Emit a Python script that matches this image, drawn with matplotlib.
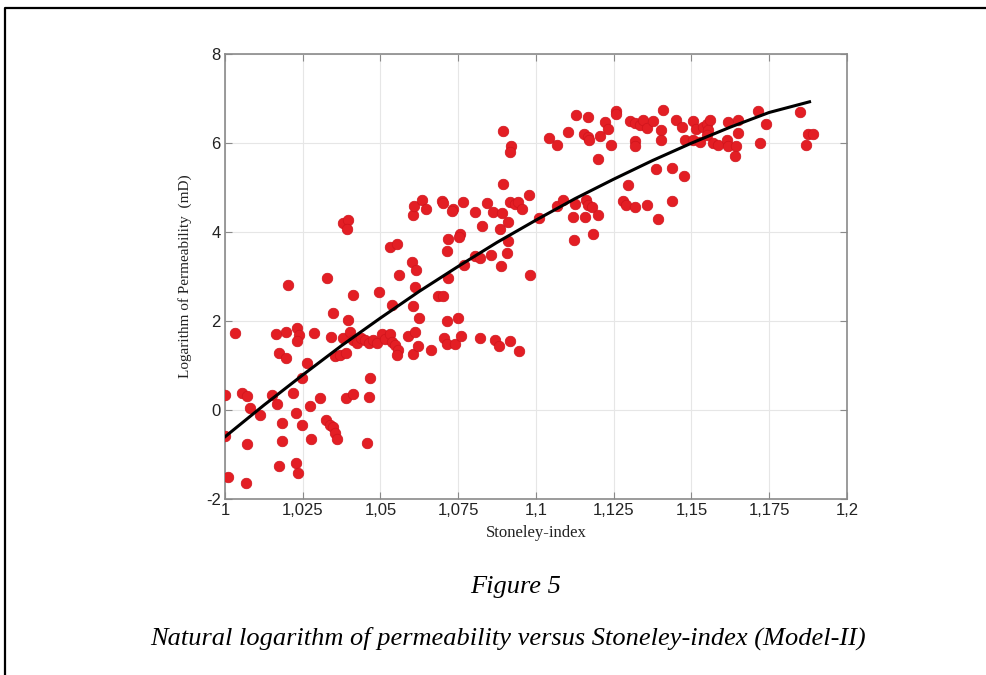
import numpy as np
import matplotlib
matplotlib.use("Agg")
import matplotlib.pyplot as plt
from matplotlib.lines import Line2D

plt.rcParams["axes.unicode_minus"] = False

# Stoneley-index and ln(permeability) of the core samples
st_index = [
    1.0893, 1.0919, 1.0918, 1.0893, 1.0916, 1.0932, 1.0606, 1.0609, 1.0635, 1.0646,
    1.0697, 1.0702, 1.0732, 1.0729, 1.0764, 1.0804, 1.0843, 1.0863, 1.0890, 1.0825,
    1.0886, 1.0911, 1.0718, 1.0756, 1.0754, 1.0715, 1.0909, 1.0906, 1.0857, 1.0804,
    1.0820, 1.0887, 1.0770, 1.0602, 1.0614, 1.0531, 1.0552, 1.0559, 1.0718, 1.0378,
    1.0397, 1.0393, 1.0327,
    1.0943, 1.0954, 1.0977, 1.0981, 1.1010, 1.1069, 1.1088, 1.1125, 1.1120, 1.1122,
    1.1161, 1.1168, 1.1179, 1.1158, 1.1200, 1.1184, 1.1042, 1.1069, 1.1102, 1.1129,
    1.1168, 1.1153, 1.1168, 1.1171, 1.1206, 1.1200, 1.1222, 1.1233, 1.1257, 1.1259,
    1.1241, 1.1302, 1.1318, 1.1334, 1.1343, 1.1356, 1.1377, 1.1401, 1.1402, 1.1318,
    1.1318, 1.1409, 1.1386, 1.1438, 1.1477, 1.1297, 1.1279, 1.1289, 1.1318, 1.1356,
    1.1437, 1.1394, 1.1450, 1.1471, 1.1506, 1.1516, 1.1538, 1.1549, 1.1561, 1.1554,
    1.1479, 1.1506, 1.1527, 1.1549, 1.1570, 1.1586, 1.1613, 1.1618, 1.1643, 1.1640,
    1.1618, 1.1651, 1.1650, 1.1715, 1.1740, 1.1720, 1.1849, 1.1876, 1.1891, 1.1870,
    1.0000, 1.0000, 1.0011, 1.0032, 1.0054, 1.0070, 1.0080, 1.0072, 1.0068, 1.0113,
    1.0150, 1.0168, 1.0164, 1.0196, 1.0175, 1.0196, 1.0204, 1.0182, 1.0182, 1.0175,
    1.0228, 1.0236, 1.0219, 1.0228, 1.0247, 1.0233, 1.0239, 1.0233, 1.0247, 1.0265,
    1.0273, 1.0276, 1.0286, 1.0305, 1.0325, 1.0338, 1.0348, 1.0354, 1.0359, 1.0340,
    1.0348, 1.0354, 1.0370, 1.0389, 1.0389, 1.0410, 1.0396, 1.0410, 1.0381, 1.0402,
    1.0413, 1.0423, 1.0436, 1.0450, 1.0464, 1.0477, 1.0488, 1.0504, 1.0514, 1.0531,
    1.0536, 1.0547, 1.0557, 1.0554, 1.0466, 1.0464, 1.0458, 1.0495, 1.0536, 1.0590,
    1.0604, 1.0611, 1.0606, 1.0622, 1.0611, 1.0625, 1.0662, 1.0686, 1.0700, 1.0715,
    1.0705, 1.0715, 1.0740, 1.0748, 1.0759, 1.0820, 1.0868, 1.0882, 1.0916, 1.0946,
]
ln_perm = [
    6.28, 5.93, 5.80, 5.08, 4.68, 4.64, 4.38, 4.59, 4.73, 4.53,
    4.70, 4.65, 4.53, 4.48, 4.68, 4.46, 4.66, 4.46, 4.43, 4.14,
    4.08, 4.23, 3.84, 3.95, 3.90, 3.57, 3.80, 3.54, 3.48, 3.46,
    3.41, 3.24, 3.26, 3.33, 3.15, 3.66, 3.73, 3.03, 2.98, 4.21,
    4.27, 4.08, 2.98,
    4.68, 4.51, 4.83, 3.03, 4.31, 4.59, 4.73, 4.64, 4.34, 3.82,
    4.73, 4.61, 4.57, 4.34, 4.38, 3.95, 6.12, 5.96, 6.24, 6.63,
    6.59, 6.20, 6.14, 6.08, 6.16, 5.64, 6.47, 6.31, 6.72, 6.65,
    5.97, 6.50, 6.46, 6.40, 6.52, 6.33, 6.50, 6.29, 6.08, 6.04,
    5.93, 6.74, 5.41, 5.45, 5.27, 5.06, 4.70, 4.61, 4.57, 4.60,
    4.70, 4.29, 6.53, 6.37, 6.50, 6.31, 6.37, 6.44, 6.52, 6.29,
    6.08, 6.07, 6.03, 6.18, 6.01, 5.96, 6.07, 5.93, 5.93, 5.71,
    6.47, 6.52, 6.22, 6.73, 6.43, 6.01, 6.70, 6.20, 6.20, 5.96,
    0.34, -0.58, -1.50, 1.74, 0.39, 0.31, 0.04, -0.76, -1.65, -0.11,
    0.34, 0.13, 1.70, 1.76, 1.29, 1.16, 2.82, -0.30, -0.70, -1.26,
    -1.18, -1.42, 0.39, -0.07, -0.34, 1.84, 1.69, 1.55, 0.71, 1.05,
    0.09, -0.65, 1.74, 0.26, -0.22, -0.34, -0.37, -0.51, -0.64, 1.65,
    2.19, 1.21, 1.24, 1.29, 0.26, 0.36, 2.02, 2.58, 1.61, 1.76,
    1.57, 1.51, 1.61, 1.57, 1.51, 1.57, 1.51, 1.71, 1.59, 1.71,
    1.54, 1.46, 1.35, 1.24, 0.71, 0.29, -0.73, 2.66, 2.36, 1.66,
    2.34, 1.76, 1.25, 1.44, 2.77, 2.07, 1.36, 2.56, 2.56, 2.01,
    1.63, 1.48, 1.48, 2.08, 1.66, 1.63, 1.57, 1.44, 1.56, 1.33,
]

# regression curve (Model-II)
fit_x = [1.0, 1.0125, 1.025, 1.0375, 1.05, 1.0625, 1.075, 1.0875, 1.1,
         1.1125, 1.125, 1.1375, 1.15, 1.1625, 1.175, 1.188]
fit_y = [-0.60, 0.11, 0.79, 1.45, 2.07, 2.67, 3.23, 3.77, 4.27,
         4.75, 5.19, 5.61, 6.00, 6.36, 6.69, 6.93]

x_ticks = [1.0, 1.025, 1.05, 1.075, 1.1, 1.125, 1.15, 1.175, 1.2]
x_tick_labels = ["1", "1,025", "1,05", "1,075", "1,1", "1,125", "1,15", "1,175", "1,2"]
y_ticks = [-2, 0, 2, 4, 6, 8]

fig = plt.figure(figsize=(9.87, 6.75), dpi=100)
ax = fig.add_axes([0.228, 0.2607, 0.630, 0.659])

ax.grid(True, color="#e6e6e6", linewidth=0.8, zorder=0)
ax.scatter(st_index, ln_perm, s=58, color="#e31e24", edgecolors="#d0141c",
           linewidths=0.5, zorder=3)
ax.plot(fit_x, fit_y, color="black", linewidth=2.2, zorder=4)

ax.set_xlim(1.0, 1.2)
ax.set_ylim(-2, 8)
ax.set_xticks(x_ticks)
ax.set_xticklabels(x_tick_labels)
ax.set_yticks(y_ticks)

for sp in ax.spines.values():
    sp.set_color("#8a8a8a")
    sp.set_linewidth(1.2)
ax.tick_params(direction="in", length=5, width=0.8, color="#8a8a8a",
               top=True, right=True, labelsize=12, pad=3)
for lbl in ax.get_xticklabels() + ax.get_yticklabels():
    lbl.set_family("Liberation Sans")
    lbl.set_color("#222222")

ax.set_xlabel("Stoneley-index", family="Liberation Serif", fontsize=12, labelpad=5,
              color="#222222")
ax.set_ylabel("Logarithm of Permeability  (mD)", family="Liberation Serif",
              fontsize=11, labelpad=10, color="#222222")

# captions under the chart
fig.text(0.522, 0.130, "Figure 5", family="Liberation Serif", style="italic",
         fontsize=19, ha="center", va="center")
fig.text(0.515, 0.055, "Natural logarithm of permeability versus Stoneley-index (Model-II)",
         family="Liberation Serif", style="italic", fontsize=19,
         ha="center", va="center")

# page frame (left and top edges)
fig.add_artist(Line2D([0.005, 0.005, 1.0], [0.0, 0.988, 0.988],
                      transform=fig.transFigure, color="black", linewidth=1.6))

fig.savefig("out.png", dpi=100)
